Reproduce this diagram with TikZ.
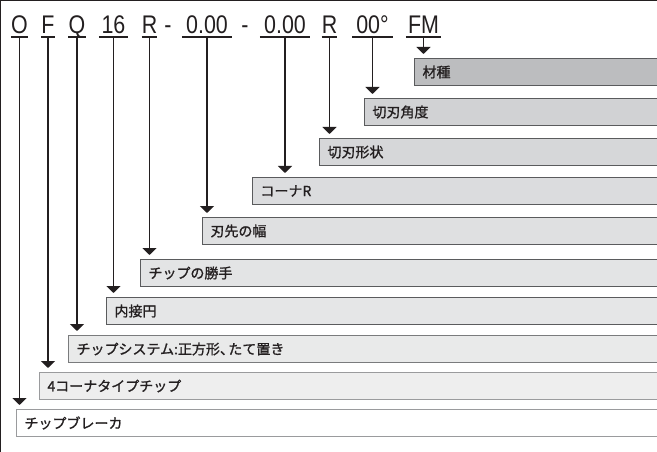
\documentclass[tikz,border=0pt]{standalone}
\usepackage{fontspec}
\usetikzlibrary{arrows.meta}
\newfontfamily\codefont[FakeStretch=0.84]{Liberation Sans}
\newfontfamily\jp[FakeBold=1.2]{Noto Sans CJK JP}
\definecolor{ink}{HTML}{231F20}
\definecolor{f1}{HTML}{BCBDBF}
\definecolor{f2}{HTML}{D1D2D4}
\definecolor{f3}{HTML}{D6D7D9}
\definecolor{f4}{HTML}{DBDCDE}
\definecolor{f5}{HTML}{DFE0E1}
\definecolor{f6}{HTML}{E3E4E5}
\definecolor{f7}{HTML}{E5E6E7}
\definecolor{f8}{HTML}{E9EAEA}
\definecolor{f9}{HTML}{EEEEEE}
\definecolor{f10}{HTML}{FFFFFF}
\definecolor{bdark}{HTML}{5A5B5D}
\definecolor{bmid}{HTML}{7A7B7D}
\definecolor{blight}{HTML}{9A9B9D}
\tikzset{
  code/.style={font=\codefont\fontsize{25.5}{25.5}\selectfont, text=ink, anchor=base,
    inner xsep=0pt, inner ysep=3.5pt, text depth=0pt},
  uline/.style={draw=ink, line width=1.8pt},
  arr/.style={draw=ink, line width=1.8pt, -{Triangle[width=14pt,length=7pt]}, shorten >=4pt},
  jbox/.style={line width=1pt, minimum height=27pt, inner xsep=8pt, inner ysep=0pt,
    anchor=north west, align=left, text=ink, font=\jp\fontsize{14}{14}\selectfont},
  frame/.style={draw=ink, line width=1.4pt}
}
\begin{document}
\begin{tikzpicture}[x=1pt,y=-1pt]
\useasboundingbox (0,0) rectangle (657,452);
\draw[frame] (0.7,452) -- (0.7,0.7) -- (657,0.7);
% boxes
\node[jbox, fill=f1, draw=bdark, text width=270pt] (zai) at (414,58) {材種};
\node[jbox, fill=f2, draw=bdark, text width=320pt] (kak) at (364,98) {切刃角度};
\node[jbox, fill=f3, draw=bdark, text width=365pt] (kei) at (319,138) {切刃形状};
\node[jbox, fill=f4, draw=bdark, text width=432pt] (cor) at (252,177) {コーナR};
\node[jbox, fill=f5, draw=bdark, text width=482pt] (hab) at (202,217) {刃先の幅};
\node[jbox, fill=f6, draw=bdark, text width=544pt] (kat) at (140,259) {チップの勝手};
\node[jbox, fill=f7, draw=bdark, text width=578pt] (nai) at (106,297) {内接円};
\node[jbox, fill=f8, draw=bmid, text width=616pt] (sys) at (68,335) {チップシステム:正方形、\kern-0.4em たて置き};
\node[jbox, fill=f9, draw=blight, text width=645pt] (yon) at (39,372) {4コーナタイプチップ};
\node[jbox, fill=f10, draw=blight, text width=668pt] (brk) at (16,409) {チップブレーカ};
% code letters
\node[code, minimum width=17pt] (cO) at (19.5,33.5) {O};
\node[code, minimum width=14pt] (cF) at (48,33.5) {F};
\node[code, minimum width=16pt] (cQ) at (77,33.5) {Q};
\node[code, minimum width=29pt] (c16) at (113.5,33.5) {16};
\node[code, minimum width=15pt] (cR) at (149.5,33.5) {R};
\node[code] (d1) at (168,33.5) {-};
\node[code, minimum width=50pt] (cW) at (207,33.5) {0.00};
\node[code] (d2) at (245,33.5) {-};
\node[code, minimum width=50pt] (cC) at (285,33.5) {0.00};
\node[code, minimum width=15pt] (cR2) at (329.5,33.5) {R};
\node[code, minimum width=40pt] (cA) at (372.5,33.5) {00°};
\node[code, minimum width=35pt] (cM) at (423.5,33.5) {FM};
\foreach \n in {cO,cF,cQ,c16,cR,cW,cC,cR2,cA,cM}{
  \draw[uline] (\n.south west) -- (\n.south east);
}
% arrows
\draw[arr] (cO.south) -- (cO.south |- brk.north);
\draw[arr] (cF.south) -- (cF.south |- yon.north);
\draw[arr] (cQ.south) -- (cQ.south |- sys.north);
\draw[arr] (c16.south) -- (c16.south |- nai.north);
\draw[arr] (cR.south) -- (cR.south |- kat.north);
\draw[arr] (cW.south) -- (cW.south |- hab.north);
\draw[arr] (cC.south) -- (cC.south |- cor.north);
\draw[arr] (cR2.south) -- (cR2.south |- kei.north);
\draw[arr] (cA.south) -- (cA.south |- kak.north);
\draw[arr] (cM.south) -- (cM.south |- zai.north);
\end{tikzpicture}
\end{document}
